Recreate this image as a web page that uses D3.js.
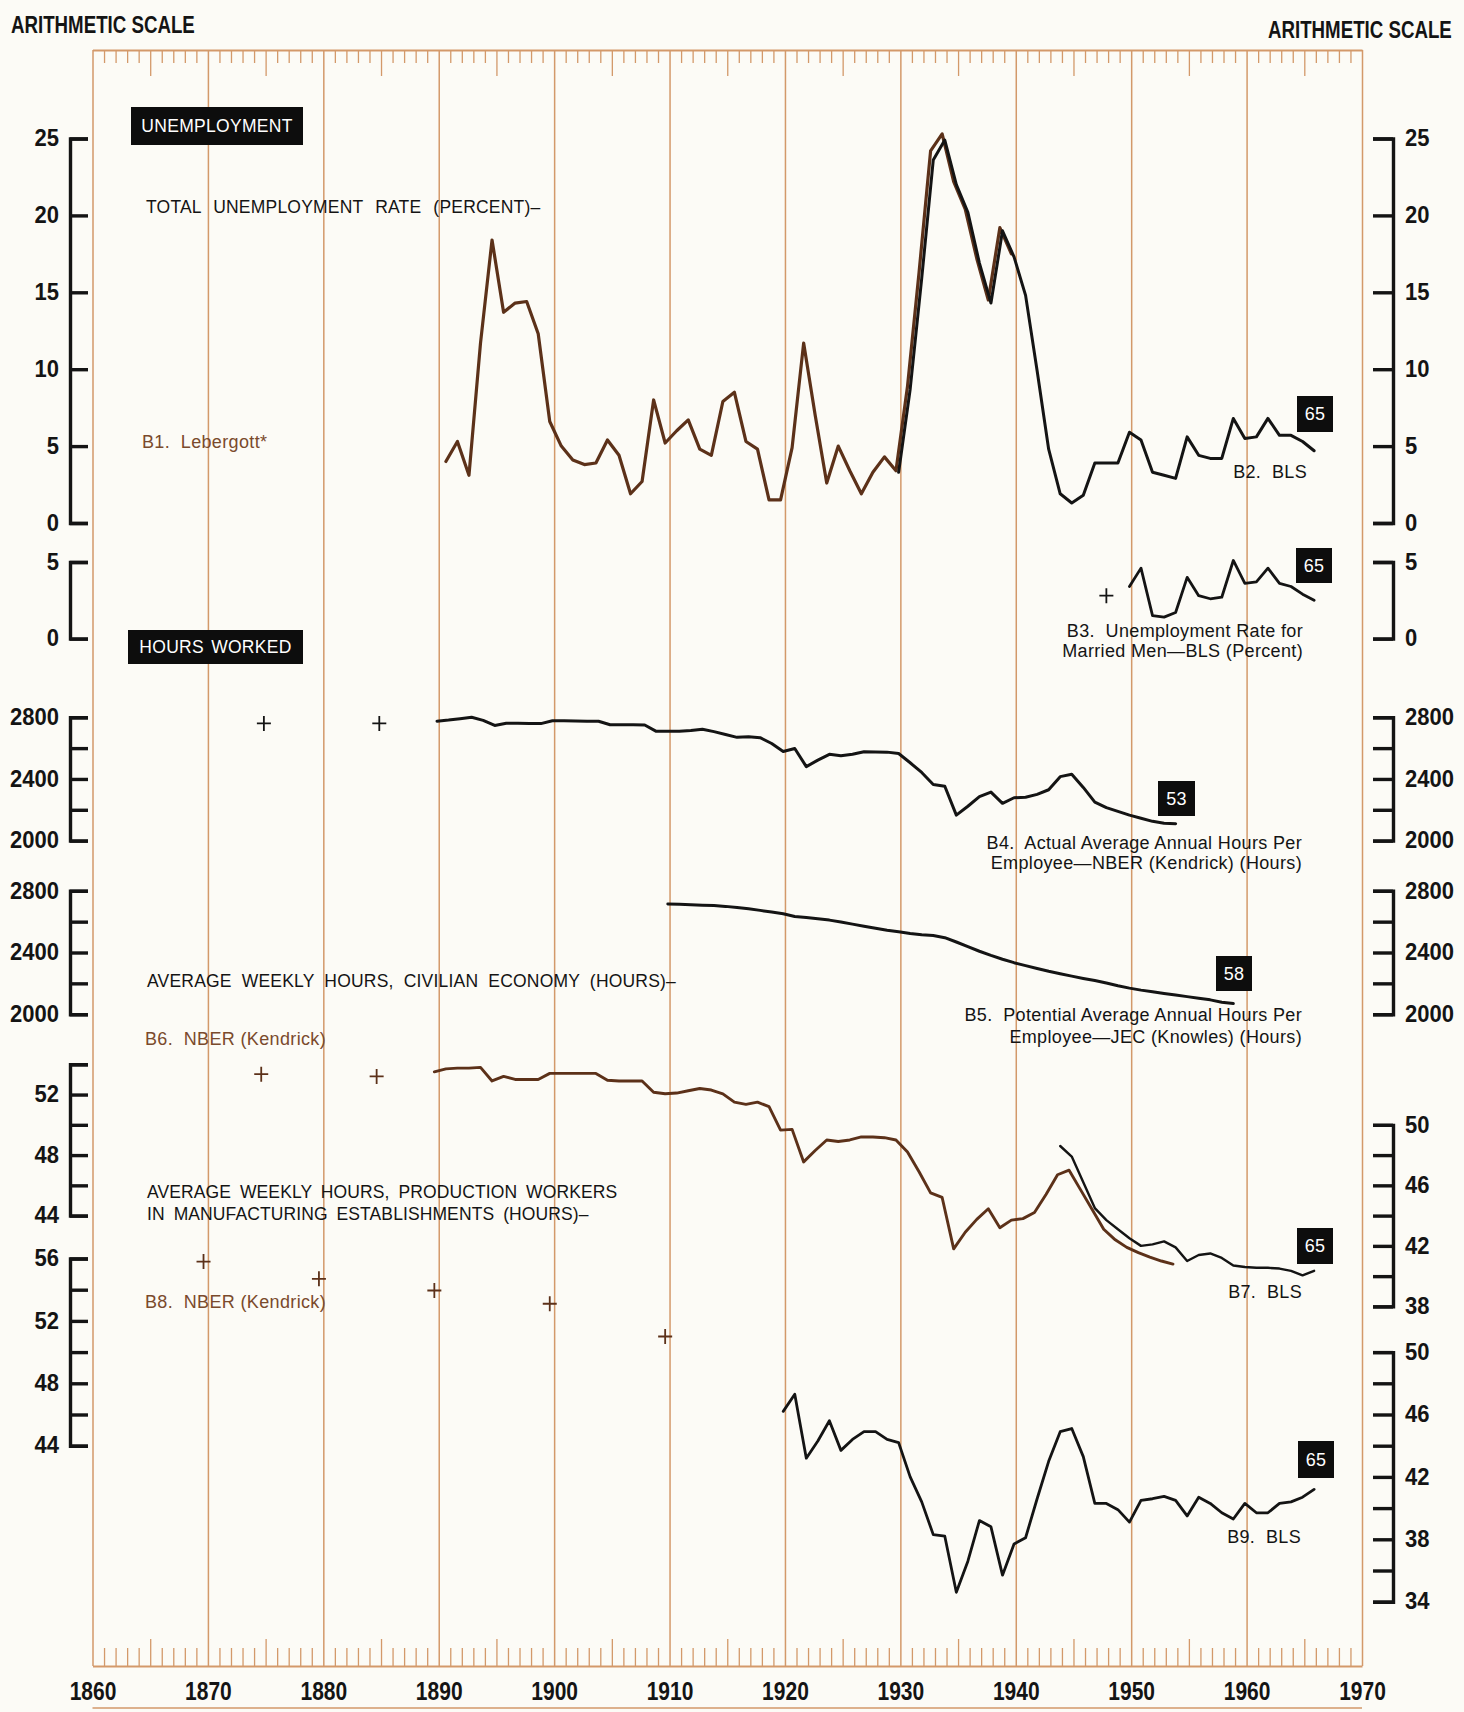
<!DOCTYPE html>
<html>
<head>
<meta charset="utf-8">
<script src="https://cdn.jsdelivr.net/npm/d3@7"></script>
<style>
  html, body { margin: 0; padding: 0; background: #fcfbf6; }
  svg { display: block; }
  text { white-space: pre; }
</style>
</head>
<body>
<svg id="chart" width="1464" height="1712"></svg>
<script>
// ---------------------------------------------------------------------------
// Annual series (first year + values)
// ---------------------------------------------------------------------------
const b1Start = 1890; // Lebergott total unemployment rate, percent
const b1Lebergott = [
  4.0, 5.3, 3.1, 11.7, 18.4, 13.7, 14.3, 14.4, 12.3, 6.6,
  5.0, 4.1, 3.8, 3.9, 5.4, 4.4, 1.9, 2.7, 8.0, 5.2,
  6.0, 6.7, 4.8, 4.4, 7.9, 8.5, 5.3, 4.8, 1.5, 1.5,
  4.9, 11.7, 7.0, 2.6, 5.0, 3.4, 1.9, 3.3, 4.3, 3.4,
  8.9, 16.3, 24.2, 25.3, 22.2, 20.4, 17.2, 14.5, 19.2, 17.5
];

const b2Start = 1929; // BLS total unemployment rate, percent
const b2Bls = [
  3.3, 8.7, 15.9, 23.6, 24.9, 22.0, 20.2, 16.9, 14.3, 19.0, 17.3,
  14.8, 9.9, 4.8, 1.9, 1.3, 1.8, 3.9, 3.9, 3.9, 5.9,
  5.4, 3.3, 3.1, 2.9, 5.6, 4.4, 4.2, 4.2, 6.8, 5.5,
  5.6, 6.8, 5.7, 5.7, 5.3, 4.7
];

const b3Start = 1949; // unemployment rate for married men, percent
const b3MarriedMen = [
  3.4, 4.6, 1.5, 1.4, 1.7, 4.0, 2.8, 2.6, 2.7, 5.1, 3.6, 3.7, 4.6, 3.6, 3.4, 2.9, 2.5
];
const b3Isolated = [[1947, 2.8]];

const b4Start = 1889; // actual average annual hours per employee (NBER, Kendrick)
const b4ActualHours = [
  2775,
  2782, 2791, 2800, 2780, 2747, 2762, 2761, 2760, 2759, 2778,
  2777, 2776, 2775, 2774, 2752, 2752, 2752, 2750, 2709, 2709,
  2709, 2714, 2723, 2707, 2688, 2670, 2674, 2668, 2630, 2578,
  2598, 2480, 2522, 2560, 2550, 2560, 2577, 2575, 2574, 2565,
  2505, 2442, 2364, 2353, 2165, 2223, 2285, 2315, 2242, 2278,
  2281, 2300, 2330, 2415, 2430, 2345, 2250, 2214, 2190, 2165,
  2145, 2125, 2113, 2110
];
const b4Isolated = [[1874, 2760], [1884, 2760]];

const b5Start = 1909; // potential average annual hours per employee (JEC, Knowles)
const b5PotentialHours = [
  2714,
  2712, 2710, 2707, 2704, 2699, 2692, 2684, 2673, 2662, 2651,
  2633, 2627, 2619, 2610, 2598, 2584, 2570, 2557, 2544, 2534,
  2523, 2515, 2510, 2496, 2468, 2438, 2408, 2381, 2356, 2334,
  2315, 2296, 2278, 2262, 2247, 2232, 2218, 2202, 2184, 2169,
  2156, 2145, 2134, 2124, 2114, 2104, 2093, 2078, 2069
];

const b6Start = 1889; // average weekly hours, civilian economy (NBER, Kendrick)
const b6CivilianNber = [
  53.5,
  53.7, 53.75, 53.75, 53.8, 52.9, 53.2, 53.0, 53.0, 53.0, 53.4,
  53.4, 53.4, 53.4, 53.4, 52.95, 52.9, 52.9, 52.9, 52.15, 52.05,
  52.1, 52.25, 52.4, 52.3, 52.05, 51.5, 51.35, 51.5, 51.2, 49.65,
  49.7, 47.55, 48.3, 49.0, 48.9, 49.0, 49.2, 49.2, 49.15, 49.0,
  48.2, 46.9, 45.5, 45.2, 41.8, 42.9, 43.75, 44.45, 43.2, 43.7,
  43.8, 44.2, 45.4, 46.7, 47.0, 45.7, 44.4, 43.1, 42.4, 41.9,
  41.55, 41.25, 41.0, 40.8
];
const b6Isolated = [[1874, 53.35], [1884, 53.2]];

const b7Start = 1943; // average weekly hours, civilian economy (BLS)
const b7CivilianBls = [
  48.6, 47.9, 46.2, 44.5, 43.7, 43.1, 42.5,
  42.0, 42.1, 42.3, 41.9, 41.0, 41.4, 41.5, 41.2, 40.7, 40.6,
  40.55, 40.55, 40.5, 40.35, 40.05, 40.35
];

const b8Isolated = [[1869, 55.8], [1879, 54.7], [1889, 53.95], [1899, 53.1], [1909, 51.0]];

const b9Start = 1919; // average weekly hours, manufacturing production workers (BLS)
const b9ManufacturingBls = [
  46.2,
  47.3, 43.2, 44.3, 45.6, 43.7, 44.4, 44.9, 44.9, 44.4, 44.2,
  42.0, 40.4, 38.3, 38.2, 34.6, 36.6, 39.2, 38.8, 35.7, 37.7,
  38.1, 40.6, 43.0, 44.9, 45.1, 43.3, 40.3, 40.3, 39.9, 39.1,
  40.5, 40.6, 40.75, 40.5, 39.5, 40.7, 40.3, 39.7, 39.3, 40.3,
  39.7, 39.7, 40.3, 40.4, 40.7, 41.2
];

// ---------------------------------------------------------------------------
// Layout and styling
// ---------------------------------------------------------------------------
const GRID = '#d3996a';
const INK = '#141414';
const BROWN = '#5c3119';
const BROWN_TEXT = '#7a4a2c';
const SANS = "'Liberation Sans', Arial, 'Helvetica Neue', sans-serif";

const svg = d3.select('#chart');
const frameTop = 50, frameBottom = 1666;
const leftAxisX = 70, rightAxisX = 1393;

const x = d3.scaleLinear().domain([1860, 1970]).range([92.5, 1362]);

const yUnemp = d3.scaleLinear().domain([0, 25]).range([523, 138.5]);
const yMarried = d3.scaleLinear().domain([0, 5]).range([638.6, 562]);
const yActual = d3.scaleLinear().domain([2000, 2800]).range([840.6, 717.3]);
const yPotential = d3.scaleLinear().domain([2000, 2800]).range([1014.2, 890.8]);
const yCivil = d3.scaleLinear().domain([38, 54]).range([1306.4, 1064.3]);
const yMfg = d3.scaleLinear().domain([34, 56]).range([1601.7, 1258.5]);

// annual observations sit a little past the year mark
const BROWN_SHIFT = 0.62, BLACK_SHIFT = 0.85;

// ---------------------------------------------------------------------------
// Time frame: top and bottom year axes with decade rules
// ---------------------------------------------------------------------------
const allYears = d3.range(1860, 1971);
const topAxis = d3.axisBottom(x).tickValues(allYears).tickSizeInner(13).tickSizeOuter(0).tickFormat('');
const gTop = svg.append('g').attr('transform', `translate(0,${frameTop})`).call(topAxis);
gTop.select('.domain').attr('stroke', GRID).attr('stroke-width', 1.8);
gTop.selectAll('.tick line')
  .attr('stroke', GRID)
  .attr('stroke-width', d => d % 10 === 0 ? 1.5 : 1.3)
  .attr('y2', d => d % 10 === 0 ? frameBottom - frameTop : (d % 5 === 0 ? 26 : 13));

const bottomAxis = d3.axisBottom(x).tickValues(allYears).tickSizeInner(-18).tickSizeOuter(0)
  .tickPadding(13.4).tickFormat(d => d % 10 === 0 ? d : '');
const gBottom = svg.append('g').attr('transform', `translate(0,${frameBottom})`).call(bottomAxis);
gBottom.attr('font-family', null).attr('font-size', null);
gBottom.select('.domain').attr('stroke', GRID).attr('stroke-width', 2.2);
gBottom.selectAll('.tick line')
  .attr('stroke', GRID).attr('stroke-width', 1.3)
  .attr('y2', d => d % 10 === 0 ? 0 : (d % 5 === 0 ? -27 : -18));
// condensed, tall year numerals
gBottom.selectAll('.tick text')
  .attr('fill', INK)
  .attr('font-family', SANS).attr('font-weight', 'bold').attr('font-size', 21)
  .attr('transform', 'scale(1,1.2)');

svg.append('line')
  .attr('x1', x(1860)).attr('x2', x(1970)).attr('y1', 1708).attr('y2', 1708)
  .attr('stroke', GRID).attr('stroke-width', 1.6);

// ---------------------------------------------------------------------------
// Vertical value axes (bracket style)
// ---------------------------------------------------------------------------
function valueAxis(scale, lo, hi, step, labelled, side) {
  const s = d3.scaleLinear().domain([lo, hi]).range([scale(lo), scale(hi)]);
  const len = side === 'left' ? 18 : 20;
  const axis = (side === 'left' ? d3.axisLeft(s) : d3.axisRight(s))
    .tickValues(d3.range(lo, hi + step / 2, step))
    .tickSizeInner(-len).tickSizeOuter(-len)
    .tickPadding(side === 'left' ? 11 : 12)
    .tickFormat(v => labelled.includes(v) ? String(v) : '');
  const g = svg.append('g')
    .attr('transform', `translate(${side === 'left' ? leftAxisX : rightAxisX},0)`)
    .call(axis);
  g.attr('font-family', null).attr('font-size', null);
  g.select('.domain').attr('stroke', INK).attr('stroke-width', 3.4).attr('stroke-linejoin', 'miter');
  g.selectAll('.tick line').attr('stroke', INK).attr('stroke-width', 3.4);
  g.selectAll('.tick text')
    .attr('fill', INK)
    .attr('font-family', SANS).attr('font-weight', 'bold').attr('font-size', 22)
    .attr('dy', '0.3em')
    .attr('transform', 'scale(1,1.1)');
}

valueAxis(yUnemp, 0, 25, 5, [0, 5, 10, 15, 20, 25], 'left');
valueAxis(yUnemp, 0, 25, 5, [0, 5, 10, 15, 20, 25], 'right');
valueAxis(yMarried, 0, 5, 5, [0, 5], 'left');
valueAxis(yMarried, 0, 5, 5, [0, 5], 'right');
valueAxis(yActual, 2000, 2800, 200, [2000, 2400, 2800], 'left');
valueAxis(yActual, 2000, 2800, 200, [2000, 2400, 2800], 'right');
valueAxis(yPotential, 2000, 2800, 200, [2000, 2400, 2800], 'left');
valueAxis(yPotential, 2000, 2800, 200, [2000, 2400, 2800], 'right');
valueAxis(yCivil, 44, 54, 2, [44, 48, 52], 'left');
valueAxis(yCivil, 38, 50, 2, [38, 42, 46, 50], 'right');
valueAxis(yMfg, 44, 56, 2, [44, 48, 52, 56], 'left');
valueAxis(yMfg, 34, 50, 2, [34, 38, 42, 46, 50], 'right');

// ---------------------------------------------------------------------------
// Series
// ---------------------------------------------------------------------------
function toPoints(start, values) {
  return values.map((v, i) => ({ year: start + i, value: v }));
}

function drawSeries(start, values, yScale, color, width, shift) {
  const line = d3.line()
    .x(d => x(d.year + shift))
    .y(d => yScale(d.value));
  svg.append('path')
    .datum(toPoints(start, values))
    .attr('d', line)
    .attr('fill', 'none')
    .attr('stroke', color)
    .attr('stroke-width', width)
    .attr('stroke-linejoin', 'round')
    .attr('stroke-linecap', 'round');
}

function drawCrosses(points, yScale, color, shift) {
  svg.append('g').selectAll('path')
    .data(points)
    .join('path')
    .attr('transform', d => `translate(${x(d[0] + shift)},${yScale(d[1])})`)
    .attr('d', 'M-7,0H7M0,-7.5V7.5')
    .attr('stroke', color)
    .attr('stroke-width', 1.8)
    .attr('fill', 'none');
}

drawSeries(b1Start, b1Lebergott, yUnemp, BROWN, 3.2, BROWN_SHIFT);
drawSeries(b2Start, b2Bls, yUnemp, INK, 3.0, BLACK_SHIFT);
drawSeries(b3Start, b3MarriedMen, yMarried, INK, 2.8, BLACK_SHIFT);
drawCrosses(b3Isolated, yMarried, INK, BLACK_SHIFT);
drawSeries(b4Start, b4ActualHours, yActual, INK, 3.0, BLACK_SHIFT);
drawCrosses(b4Isolated, yActual, INK, BLACK_SHIFT);
drawSeries(b5Start, b5PotentialHours, yPotential, INK, 3.0, BLACK_SHIFT);
drawSeries(b6Start, b6CivilianNber, yCivil, BROWN, 2.9, BROWN_SHIFT);
drawCrosses(b6Isolated, yCivil, BROWN, BROWN_SHIFT);
drawSeries(b7Start, b7CivilianBls, yCivil, INK, 2.4, BLACK_SHIFT);
drawCrosses(b8Isolated, yMfg, BROWN, BROWN_SHIFT);
drawSeries(b9Start, b9ManufacturingBls, yMfg, INK, 2.8, BLACK_SHIFT);

// ---------------------------------------------------------------------------
// Text
// ---------------------------------------------------------------------------
function label(txt, px, py, opts = {}) {
  return svg.append('text')
    .attr('x', px).attr('y', py)
    .attr('text-anchor', opts.anchor || 'start')
    .attr('fill', opts.color || INK)
    .attr('font-family', opts.family || SANS)
    .attr('font-size', opts.size || 18)
    .attr('font-weight', opts.weight || 'normal')
    .attr('letter-spacing', opts.spacing != null ? opts.spacing : 0.35)
    .attr('word-spacing', opts.wordSpacing || 0)
    .text(txt);
}

function blackBox(txt, x0, y0, w, h, size) {
  svg.append('rect').attr('x', x0).attr('y', y0).attr('width', w).attr('height', h).attr('fill', '#0d0d0d');
  label(txt, x0 + w / 2, y0 + h / 2 + size * 0.36, { anchor: 'middle', color: '#ffffff', size, spacing: 0.3, wordSpacing: 2 });
}

// scale headings: bold, stretched vertically for a condensed look
function scaleHeading(px, baseline) {
  const stretch = 1.25;
  label('ARITHMETIC SCALE', px, baseline / stretch, { weight: 'bold', size: 18.7, spacing: 0 })
    .attr('transform', `scale(1,${stretch})`);
}
scaleHeading(11, 33);
scaleHeading(1268, 38);

blackBox('UNEMPLOYMENT', 131, 107, 172, 38, 17.5);
blackBox('HOURS WORKED', 128, 630, 175, 34, 17.5);

label('TOTAL UNEMPLOYMENT RATE (PERCENT)\u2013', 146, 213, { size: 17.5, spacing: 0.2, wordSpacing: 7 });
label('B1.  Lebergott*', 142, 448, { color: BROWN_TEXT, size: 18 });

blackBox('65', 1297, 396, 36, 36, 18);
label('B2.  BLS', 1307, 478, { anchor: 'end', size: 18 });

blackBox('65', 1296, 548, 36, 35, 18);
label('B3.  Unemployment Rate for', 1303, 637, { anchor: 'end', size: 18 });
label('Married Men\u2014BLS (Percent)', 1303, 657, { anchor: 'end', size: 18 });

blackBox('53', 1158, 781, 37, 35, 18);
label('B4.  Actual Average Annual Hours Per', 1302, 849, { anchor: 'end', size: 18 });
label('Employee\u2014NBER (Kendrick) (Hours)', 1302, 869, { anchor: 'end', size: 18 });

blackBox('58', 1216, 956, 36, 35, 18);
label('B5.  Potential Average Annual Hours Per', 1302, 1021, { anchor: 'end', size: 18 });
label('Employee\u2014JEC (Knowles) (Hours)', 1302, 1043, { anchor: 'end', size: 18 });

label('AVERAGE WEEKLY HOURS, CIVILIAN ECONOMY (HOURS)\u2013', 147, 987, { size: 17.5, spacing: 0.2, wordSpacing: 5 });
label('B6.  NBER (Kendrick)', 145, 1045, { color: BROWN_TEXT, size: 18 });

blackBox('65', 1297, 1228, 36, 36, 18);
label('B7.  BLS', 1302, 1298, { anchor: 'end', size: 18 });

label('AVERAGE WEEKLY HOURS, PRODUCTION WORKERS', 147, 1198, { size: 17.5, spacing: 0.1, wordSpacing: 4 });
label('IN MANUFACTURING ESTABLISHMENTS (HOURS)\u2013', 147, 1220, { size: 17.5, spacing: 0.1, wordSpacing: 4 });
label('B8.  NBER (Kendrick)', 145, 1308, { color: BROWN_TEXT, size: 18 });

blackBox('65', 1298, 1441, 36, 37, 18);
label('B9.  BLS', 1301, 1543, { anchor: 'end', size: 18 });
</script>
</body>
</html>
